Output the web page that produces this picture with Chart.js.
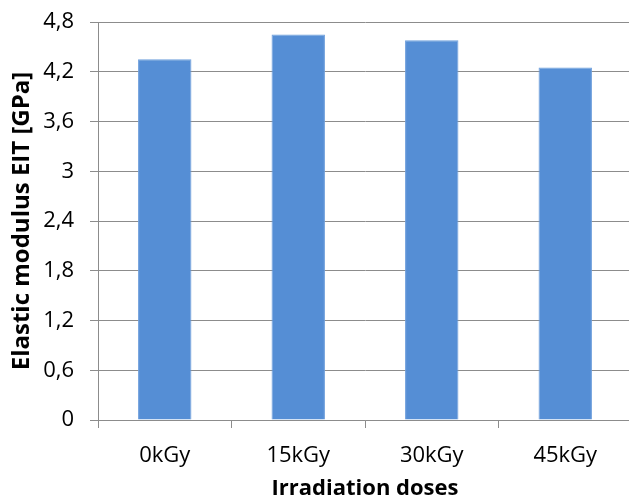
<!DOCTYPE html>
<html>
<head>
<meta charset="UTF-8">
<script src="https://cdn.jsdelivr.net/npm/chart.js@4.4.0/dist/chart.umd.min.js"></script>
<style>
  html, body { margin: 0; padding: 0; background: #fff; overflow: hidden; }
  #wrap { width: 640px; height: 502px; }
</style>
</head>
<body>
<div id="wrap"><canvas id="myChart" width="640" height="502"></canvas></div>
<script>
// data
const doses = ['0kGy', '15kGy', '30kGy', '45kGy'];
const modulus = [4.35, 4.65, 4.58, 4.25];
const yTicks = [0, 0.6, 1.2, 1.8, 2.4, 3, 3.6, 4.2, 4.8];

const gridGray = '#8c8c8c';
const font = 'Open Sans';

let ctx = document.getElementById('myChart').getContext('2d');
let chart = new Chart(ctx, {
  type: 'bar',
  data: {
    labels: doses,
    datasets: [{
      label: 'Elastic modulus EIT',
      data: modulus,
      backgroundColor: '#558ed5',
      borderColor: '#6e9fdc',
      borderWidth: 1,
      categoryPercentage: 1,
      barPercentage: 0.4
    }]
  },
  options: {
    responsive: false,
    animation: false,
    layout: { padding: { left: 4, right: 8, top: 22, bottom: 0 } },
    plugins: { legend: { display: false }, tooltip: { enabled: false } },
    scales: {
      x: {
        grid: { offset: true, drawOnChartArea: false, color: gridGray, tickLength: 8 },
        border: { color: gridGray },
        ticks: { color: '#000', font: { family: font, size: 22 }, padding: 15 },
        title: { display: true, text: 'Irradiation doses', color: '#000',
                 font: { family: font, size: 22, weight: 'bold' }, padding: { top: 4, bottom: 0 } },
        afterFit: s => { s.height = 82; }
      },
      y: {
        min: 0,
        max: 4.8,
        afterBuildTicks: s => { s.ticks = yTicks.map(v => ({ value: v })); },
        grid: { color: gridGray, tickLength: 8 },
        border: { color: gridGray },
        ticks: {
          color: '#000', font: { family: font, size: 22 }, padding: 16,
          callback: v => (+v.toFixed(1)).toString().replace('.', ',')
        },
        title: { display: true, text: 'Elastic modulus EIT [GPa]', color: '#000',
                 font: { family: font, size: 24, weight: 'bold' }, padding: { top: 4, bottom: 4 } },
        afterFit: s => { s.width = 94; s.paddingTop = 0; s.paddingBottom = 0; }
      }
    }
  }
});
</script>
</body>
</html>
